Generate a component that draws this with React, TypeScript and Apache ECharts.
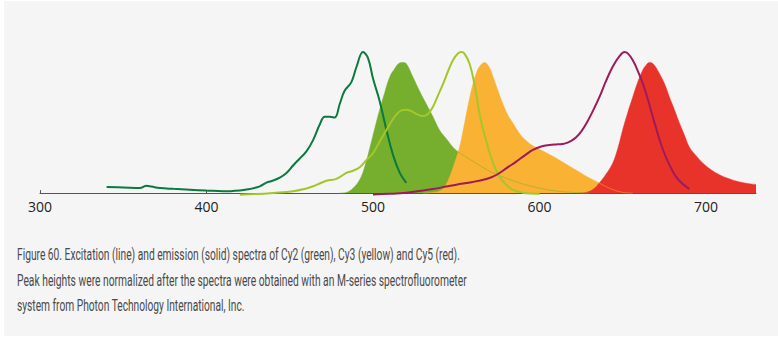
import React, { useEffect, useRef } from "react";
import * as echarts from "echarts";

// Wavelength ticks (nm)
const tickValues = [300, 400, 500, 600, 700];

// Cy2 excitation (line)
const cy2ExNm = [340, 350, 360, 364, 367, 372, 380, 390, 400, 410, 420, 426, 432, 436, 440, 444, 448, 452, 456, 460, 464, 468, 471, 474, 477, 480, 483, 487, 490, 494, 497, 500, 504, 508, 512, 516, 520];
const cy2ExVal = [4.3, 4.0, 3.6, 5.2, 4.6, 3.6, 3.0, 2.4, 1.8, 1.3, 1.9, 2.9, 4.8, 7.4, 8.9, 10.9, 14.2, 19.5, 24.5, 29.5, 37.5, 48.5, 54, 54, 53.5, 63, 72.5, 78.5, 89, 99.7, 95.5, 81, 65, 45, 27, 14.5, 7.2];

// Cy2 emission (solid)
const cy2EmNm = [480, 484, 488, 492, 495, 498, 501, 504, 507, 510, 513, 516, 518, 520, 524, 528, 532, 536, 540, 544, 548, 552, 560, 570, 580, 590, 600, 610, 620, 630];
const cy2EmVal = [0, 0.5, 3.5, 9.5, 18.5, 31.5, 45.5, 59, 71, 82, 88, 92, 92.3, 91.5, 82, 72, 63, 54, 44.5, 38.5, 32.5, 28.5, 22.5, 15.5, 10.5, 6.5, 3.5, 1.5, 0.5, 0];

// Cy3 excitation (line)
const cy3ExNm = [420, 430, 440, 452, 460, 464, 468, 472, 478, 484, 488, 492, 496, 500, 504, 508, 511, 514, 517, 520, 523, 526, 530, 533, 536, 539, 542, 545, 548, 551, 553, 555, 558, 561, 564, 567, 570, 573, 576, 580, 584, 590, 595, 600];
const cy3ExVal = [-1.2, -0.7, 0.1, 1.3, 3.3, 4.8, 6.8, 8.7, 10.1, 14.3, 15.8, 18.3, 23.3, 28.3, 36.5, 44.5, 50.5, 55.5, 58.5, 59, 58, 56, 54.5, 56, 61, 69, 77, 86, 94, 98.7, 99.7, 98.5, 91.5, 76.5, 56, 41, 28.5, 18.5, 11.5, 5.8, 2.3, 0.3, -0.3, -0.5];

// Cy3 emission (solid)
const cy3EmNm = [530, 536, 540, 543, 546, 549, 552, 554, 556, 558, 560, 562, 564, 567, 570, 572, 575, 578, 581, 584, 588, 592, 596, 600, 604, 608, 613, 618, 623, 628, 632, 636, 640, 644, 650, 656];
const cy3EmVal = [0, 0.5, 1.5, 4.5, 11.5, 21.5, 32.5, 43.5, 55.5, 67, 77, 84.5, 89.5, 92.3, 88.5, 82.5, 72.5, 63, 55, 49.5, 42, 37, 33.5, 31, 28.5, 26, 22.5, 19, 15.5, 12, 9.5, 7, 4.5, 2.5, 0.5, 0];

// Cy5 excitation (line)
const cy5ExNm = [500, 510, 520, 530, 536, 544, 550, 560, 568, 572, 576, 580, 586, 591, 596, 601, 606, 611, 615, 619, 622, 625, 628, 632, 636, 640, 644, 648, 651, 653, 656, 659, 662, 665, 668, 671, 674, 678, 682, 686, 690];
const cy5ExVal = [-1, -0.5, 0.3, 1.8, 2.9, 4.6, 5.9, 7.9, 10, 11.7, 14.2, 17.5, 22.3, 26.5, 30.5, 33, 34, 34.5, 35, 37, 39.5, 43.5, 49, 58, 68, 79.5, 89.5, 96.8, 99.7, 98.8, 94, 86.5, 77.5, 66.5, 54, 42, 31, 20, 11.5, 6.5, 3];

// Cy5 emission (solid)
const cy5EmNm = [624, 628, 632, 636, 640, 644, 647, 650, 653, 656, 659, 662, 664, 666, 668, 670, 672, 675, 678, 681, 684, 687, 690, 694, 698, 703, 708, 713, 718, 724, 730];
const cy5EmVal = [0, 0.5, 2.5, 7.3, 13.5, 21.3, 31.5, 45, 57, 68, 78.5, 87, 90.5, 92.3, 91.7, 88.7, 84.5, 77.5, 68, 59, 49.5, 41, 32.5, 26.5, 21.3, 16.5, 13, 10.5, 8.5, 7, 6];

const captionLines = [
  "Figure 60. Excitation (line) and emission (solid) spectra of Cy2 (green), Cy3 (yellow) and Cy5 (red).",
  "Peak heights were normalized after the spectra were obtained with an M-series spectrofluorometer",
  "system from Photon Technology International, Inc.",
];
const captionWidths = [443, 450, 228];

const zip = (xs: number[], ys: number[]) => xs.map((x, i) => [x, ys[i]]);

const CAPTION_SIZE = 16;
const CAPTION_FAMILY = "Roboto";

function scaleFor(text: string, target: number): number {
  const c = document.createElement("canvas").getContext("2d");
  if (!c) return 0.7;
  c.font = `${CAPTION_SIZE}px ${CAPTION_FAMILY}`;
  const w = c.measureText(text).width;
  return w > 0 ? target / w : 0.7;
}

export default function App() {
  const ref = useRef<HTMLDivElement>(null);

  useEffect(() => {
    if (!ref.current) return;
    const chart = echarts.init(ref.current, null, { renderer: "svg" });

    const fill = (name: string, nm: number[], val: number[], color: string) => ({
      name,
      type: "line",
      data: zip(nm, val),
      smooth: 0.4,
      symbol: "none",
      lineStyle: { width: 0.5, color },
      itemStyle: { color },
      areaStyle: { color, opacity: 1 },
      z: 2,
    });
    const line = (name: string, nm: number[], val: number[], color: string) => ({
      name,
      type: "line",
      data: zip(nm, val),
      smooth: 0.4,
      symbol: "none",
      lineStyle: { width: 2, color },
      itemStyle: { color },
      z: 3,
    });

    const captions = captionLines.map((t, i) => ({
      type: "text",
      x: 17,
      y: [254.4, 280.4, 305.4][i],
      scaleX: scaleFor(t, captionWidths[i]),
      style: {
        text: t,
        fontSize: CAPTION_SIZE,
        fontFamily: CAPTION_FAMILY,
        fill: "#4a4a4a",
        verticalAlign: "middle",
        align: "left",
      },
    }));

    chart.setOption({
      animation: false,
      backgroundColor: "transparent",
      grid: { left: 40, right: 22, top: 51.7, bottom: 142.5, containLabel: false },
      xAxis: {
        type: "value",
        min: 300,
        max: 730,
        interval: 100,
        axisLine: { show: true, lineStyle: { color: "#555", width: 1 } },
        axisTick: { show: true, inside: true, length: 3, lineStyle: { color: "#555" }, customValues: tickValues },
        axisLabel: {
          show: true,
          customValues: tickValues,
          color: "#222",
          fontFamily: "Open Sans",
          fontSize: 14,
          margin: 4,
        },
        splitLine: { show: false },
      },
      yAxis: {
        type: "value",
        min: -1.7,
        max: 100,
        show: false,
        splitLine: { show: false },
      },
      series: [
        fill("Cy2 emission", cy2EmNm, cy2EmVal, "#76ae2e"),
        fill("Cy3 emission", cy3EmNm, cy3EmVal, "#f9b233"),
        fill("Cy5 emission", cy5EmNm, cy5EmVal, "#e8332a"),
        line("Cy2 excitation", cy2ExNm, cy2ExVal, "#0b7a3e"),
        line("Cy3 excitation", cy3ExNm, cy3ExVal, "#a3c72a"),
        line("Cy5 excitation", cy5ExNm, cy5ExVal, "#9e1a5c"),
      ],
      graphic: captions,
    });

    return () => chart.dispose();
  }, []);

  return (
    <div style={{ position: "fixed", left: 0, top: 0, width: 778, height: 338, background: "#ffffff" }}>
      <div style={{ position: "absolute", left: 4, top: 1, width: 774, height: 335, background: "#f5f5f5" }} />
      <div ref={ref} style={{ position: "absolute", left: 0, top: 0, width: 778, height: 338 }} />
    </div>
  );
}
